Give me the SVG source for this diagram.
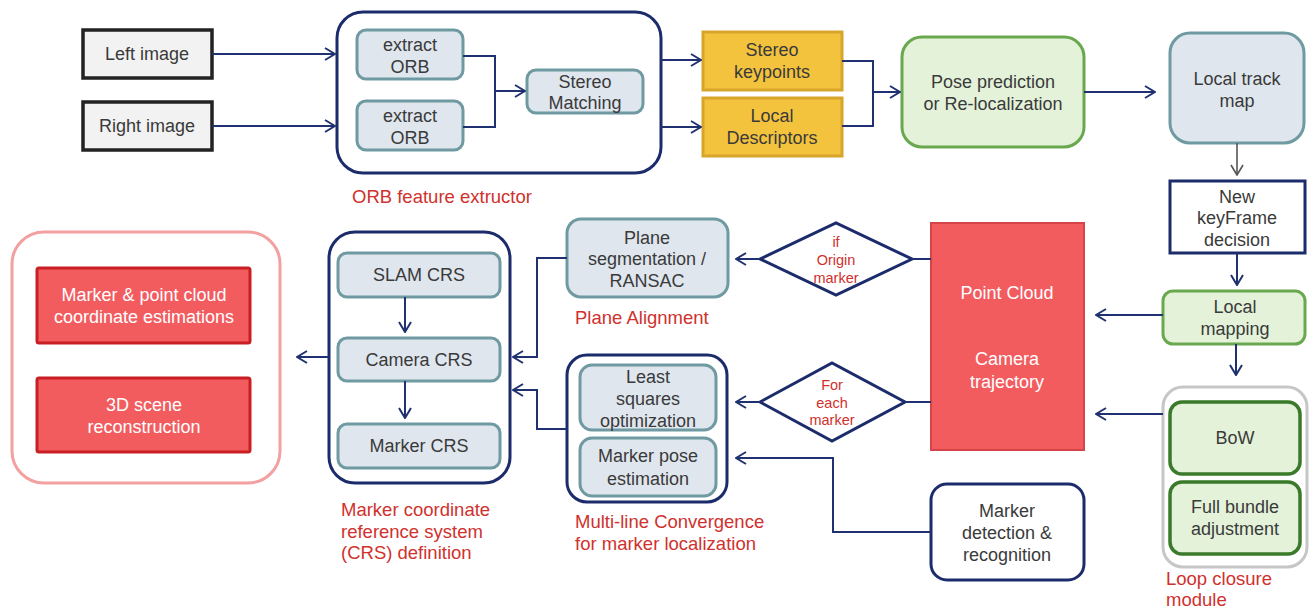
<svg xmlns="http://www.w3.org/2000/svg" width="1309" height="610" viewBox="0 0 1309 610">
<defs>
<marker id="arr" markerWidth="12" markerHeight="14" refX="11" refY="7" orient="auto" markerUnits="userSpaceOnUse">
<path d="M1,1 L11,7 L1,13" fill="none" stroke="#1f3170" stroke-width="2"/>
</marker>
<marker id="arrg" markerWidth="12" markerHeight="14" refX="11" refY="7" orient="auto" markerUnits="userSpaceOnUse">
<path d="M1,1 L11,7 L1,13" fill="none" stroke="#555" stroke-width="1.6"/>
</marker>
<style>
text{font-family:"Liberation Sans",Arial,sans-serif;font-size:18px;fill:#3a3a3a;text-anchor:middle}
.red{fill:#d0312d;text-anchor:start;font-size:18.5px}
.dia{font-size:14.5px;fill:#d0312d}
.wt{fill:#fff}
.blk{fill:#f2f2f2;stroke:#222;stroke-width:3.5}
.grey{fill:#dfe6ee;stroke:#6f9aa2;stroke-width:3}
.navy{fill:#fff;stroke:#1c2c6b;stroke-width:3}
.yel{fill:#f4c33e;stroke:#d7a52a;stroke-width:3}
.grn{fill:#e3f2d9;stroke:#6aa84f;stroke-width:3}
.dgrn{fill:#e3f2d9;stroke:#3a7a2a;stroke-width:3.5}
.redb{fill:#f25c5f;stroke:#c81e24;stroke-width:3}
.con{fill:none;stroke:#1f3170;stroke-width:2}
</style>
</defs>

<g id="left-image"><rect class="blk" x="83" y="30" width="129" height="48"/><text x="147" y="60">Left image</text></g>
<g id="right-image"><rect class="blk" x="83" y="102" width="129" height="48"/><text x="147" y="132">Right image</text></g>

<g id="orb-extractor">
<rect x="337" y="12" width="324" height="161" rx="26" fill="#fff" stroke="#1c2c6b" stroke-width="3"/>
<text class="red" x="352" y="203">ORB feature extructor</text>
</g>
<g id="extract-orb-1"><rect class="grey" x="357" y="30" width="106" height="49" rx="9"/><text x="410" y="51">extract</text><text x="410" y="73">ORB</text></g>
<g id="extract-orb-2"><rect class="grey" x="357" y="101" width="106" height="49" rx="9"/><text x="410" y="122">extract</text><text x="410" y="144">ORB</text></g>
<g id="stereo-matching"><rect class="grey" x="527" y="70" width="116" height="43" rx="9"/><text x="585" y="88">Stereo</text><text x="585" y="109">Matching</text></g>

<g id="stereo-keypoints"><rect class="yel" x="703" y="32" width="139" height="58"/><text x="772" y="56">Stereo</text><text x="772" y="78">keypoints</text></g>
<g id="local-descriptors"><rect class="yel" x="703" y="98" width="139" height="58"/><text x="772" y="122">Local</text><text x="772" y="144">Descriptors</text></g>

<g id="pose-prediction"><rect class="grn" x="902" y="37" width="182" height="110" rx="20"/><text x="993" y="88">Pose prediction</text><text x="993" y="110">or Re-localization</text></g>
<g id="local-track-map"><rect class="grey" x="1170" y="33" width="134" height="110" rx="20"/><text x="1237" y="85">Local track</text><text x="1237" y="107">map</text></g>
<g id="new-keyframe"><rect class="navy" x="1170" y="181" width="135" height="72"/><text x="1237" y="203">New</text><text x="1237" y="224">keyFrame</text><text x="1237" y="246">decision</text></g>
<g id="local-mapping"><rect class="grn" x="1163" y="291" width="142" height="53" rx="10"/><text x="1235" y="313">Local</text><text x="1235" y="335">mapping</text></g>

<g id="loop-closure">
<rect x="1163" y="387" width="144" height="180" rx="20" fill="#fff" stroke="#c6c6c6" stroke-width="3"/>
<text class="red" x="1166" y="585">Loop closure</text>
<text class="red" x="1166" y="606">module</text>
</g>
<g id="bow"><rect class="dgrn" x="1170" y="402" width="130" height="72" rx="12"/><text x="1235" y="444">BoW</text></g>
<g id="full-bundle"><rect class="dgrn" x="1170" y="482" width="130" height="72" rx="12"/><text x="1235" y="513">Full bundle</text><text x="1235" y="535">adjustment</text></g>

<g id="point-cloud"><rect x="931" y="223" width="153" height="227" fill="#f25c5f" stroke="#d44448" stroke-width="2"/><text class="wt" x="1007" y="299">Point Cloud</text><text class="wt" x="1007" y="365">Camera</text><text class="wt" x="1007" y="388">trajectory</text></g>

<g id="if-origin"><polygon points="760,259 836,223 912,259 836,295" fill="#fff" stroke="#1c2c6b" stroke-width="3"/><text class="dia" x="836" y="247">if</text><text class="dia" x="836" y="265">Origin</text><text class="dia" x="836" y="283">marker</text></g>
<g id="for-each"><polygon points="760,402 832,363 905,402 832,441" fill="#fff" stroke="#1c2c6b" stroke-width="3"/><text class="dia" x="832" y="390">For</text><text class="dia" x="832" y="408">each</text><text class="dia" x="832" y="425">marker</text></g>

<g id="plane-seg"><rect class="grey" x="567" y="219" width="161" height="78" rx="14"/><text x="647" y="244">Plane</text><text x="647" y="265">segmentation /</text><text x="647" y="287">RANSAC</text>
<text class="red" x="575" y="324">Plane Alignment</text></g>

<g id="multi-line">
<rect x="567" y="355" width="160" height="147" rx="20" fill="#fff" stroke="#1c2c6b" stroke-width="3"/>
<text class="red" x="575" y="528">Multi-line Convergence</text>
<text class="red" x="575" y="550">for marker localization</text>
</g>
<g id="least-squares"><rect class="grey" x="580" y="365" width="136" height="65" rx="12"/><text x="648" y="383">Least</text><text x="648" y="405">squares</text><text x="648" y="427">optimization</text></g>
<g id="marker-pose"><rect class="grey" x="580" y="438" width="136" height="58" rx="12"/><text x="648" y="462">Marker pose</text><text x="648" y="485">estimation</text></g>

<g id="marker-detection"><rect class="navy" x="931" y="484" width="153" height="96" rx="16"/><text x="1007" y="517">Marker</text><text x="1007" y="539">detection &amp;</text><text x="1007" y="561">recognition</text></g>

<g id="crs-definition">
<rect x="329" y="232" width="181" height="251" rx="26" fill="#fff" stroke="#1c2c6b" stroke-width="3"/>
<text class="red" x="341" y="516">Marker coordinate</text>
<text class="red" x="341" y="538">reference system</text>
<text class="red" x="341" y="559">(CRS) definition</text>
</g>
<g id="slam-crs"><rect class="grey" x="338" y="253" width="162" height="44" rx="9"/><text x="419" y="281">SLAM CRS</text></g>
<g id="camera-crs"><rect class="grey" x="338" y="338" width="162" height="43" rx="9"/><text x="419" y="366">Camera CRS</text></g>
<g id="marker-crs"><rect class="grey" x="338" y="424" width="162" height="44" rx="9"/><text x="419" y="452">Marker CRS</text></g>

<g id="outputs">
<rect x="12" y="232" width="268" height="251" rx="32" fill="#fff" stroke="#f2a0a0" stroke-width="3"/>
</g>
<g id="marker-point-cloud"><rect class="redb" x="37" y="268" width="213" height="75" rx="2"/><text class="wt" x="144" y="301">Marker &amp; point cloud</text><text class="wt" x="144" y="323">coordinate estimations</text></g>
<g id="scene-reconstruction"><rect class="redb" x="37" y="378" width="213" height="74" rx="2"/><text class="wt" x="144" y="411">3D scene</text><text class="wt" x="144" y="433">reconstruction</text></g>

<g id="connectors">
<path class="con" d="M212,54 H335" marker-end="url(#arr)"/>
<path class="con" d="M212,126 H335" marker-end="url(#arr)"/>
<path class="con" d="M463,56 H495 V127 H463"/>
<path class="con" d="M495,91 H525" marker-end="url(#arr)"/>
<path class="con" d="M661,60 H701" marker-end="url(#arr)"/>
<path class="con" d="M661,127 H701" marker-end="url(#arr)"/>
<path class="con" d="M842,61 H873 V126 H842"/>
<path class="con" d="M873,92 H900" marker-end="url(#arr)"/>
<path class="con" d="M1084,92 H1155" marker-end="url(#arr)"/>
<path d="M1237,143 V175" fill="none" stroke="#555" stroke-width="1.6" marker-end="url(#arrg)"/>
<path class="con" d="M1237,253 V285" marker-end="url(#arr)"/>
<path class="con" d="M1236,344 V375" marker-end="url(#arr)"/>
<path class="con" d="M1163,315 H1096" marker-end="url(#arr)"/>
<path class="con" d="M1163,414 H1096" marker-end="url(#arr)"/>
<path class="con" d="M931,259 H912"/>
<path class="con" d="M760,259 H736" marker-end="url(#arr)"/>
<path class="con" d="M931,402 H905"/>
<path class="con" d="M760,402 H736" marker-end="url(#arr)"/>
<path class="con" d="M931,532 H833 V458 H736" marker-end="url(#arr)"/>
<path class="con" d="M567,258 H537 V357 H513" marker-end="url(#arr)"/>
<path class="con" d="M567,429 H537 V390 H513" marker-end="url(#arr)"/>
<path class="con" d="M405,297 V332" marker-end="url(#arr)"/>
<path class="con" d="M405,381 V418" marker-end="url(#arr)"/>
<path class="con" d="M328,357 H297" marker-end="url(#arr)"/>
</g>
</svg>
